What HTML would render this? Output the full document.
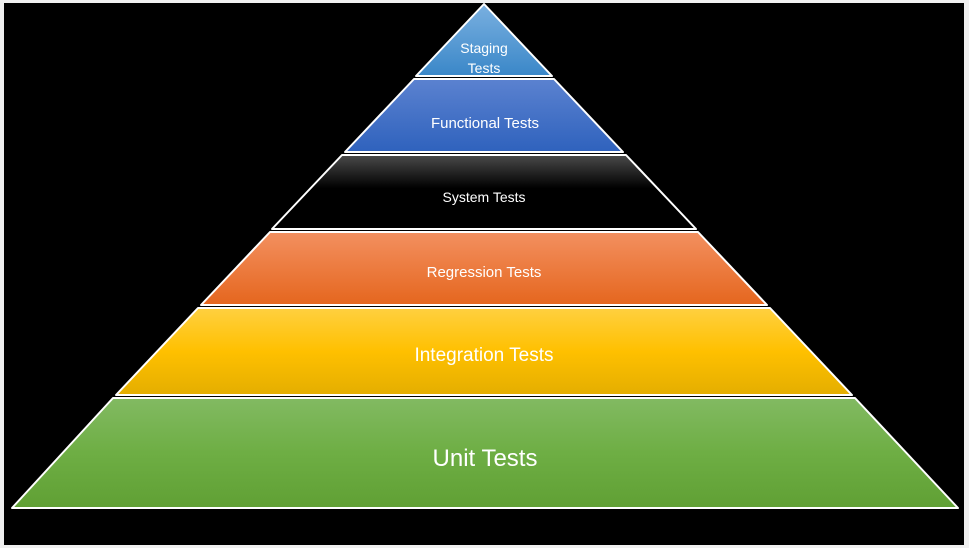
<!DOCTYPE html>
<html><head><style>
html,body{margin:0;padding:0;background:#f0f0f0;}
svg{display:block;}
text{font-family:"Liberation Sans",sans-serif;fill:#fff;text-anchor:middle;}
</style></head><body>
<svg width="969" height="548" viewBox="0 0 969 548">
<defs>
<linearGradient id="g1" x1="0" y1="0" x2="0" y2="1"><stop offset="0" stop-color="#7ab0e0"/><stop offset="1" stop-color="#3a87c8"/></linearGradient>
<linearGradient id="g2" x1="0" y1="0" x2="0" y2="1"><stop offset="0" stop-color="#5b82d0"/><stop offset="1" stop-color="#2f62bd"/></linearGradient>
<linearGradient id="g3" x1="0" y1="0" x2="0" y2="1"><stop offset="0" stop-color="#4a4a4a"/><stop offset="0.45" stop-color="#000"/><stop offset="1" stop-color="#000"/></linearGradient>
<linearGradient id="g4" x1="0" y1="0" x2="0" y2="1"><stop offset="0" stop-color="#f39060"/><stop offset="1" stop-color="#e5661e"/></linearGradient>
<linearGradient id="g5" x1="0" y1="0" x2="0" y2="1"><stop offset="0" stop-color="#ffd040"/><stop offset="0.5" stop-color="#ffc000"/><stop offset="1" stop-color="#e4ae00"/></linearGradient>
<linearGradient id="g6" x1="0" y1="0" x2="0" y2="1"><stop offset="0" stop-color="#82ba62"/><stop offset="0.5" stop-color="#6eae44"/><stop offset="1" stop-color="#60a034"/></linearGradient>
</defs>
<rect x="4" y="3" width="960" height="542" fill="#000"/>
<g stroke="#fff" stroke-width="2" stroke-linejoin="round">
<polygon points="484,4 552,76 416,76" fill="url(#g1)"/>
<polygon points="414,79 554,79 623,152 345,152" fill="url(#g2)"/>
<polygon points="342,155 626,155 696,229 272,229" fill="url(#g3)"/>
<polygon points="270,232 698,232 767,305 201,305" fill="url(#g4)"/>
<polygon points="198,308 770,308 852,395 116,395" fill="url(#g5)"/>
<polygon points="113,398 855,398 958,508 12,508" fill="url(#g6)"/>
</g>
<text x="484" y="53" font-size="14">Staging</text>
<text x="484" y="73" font-size="14">Tests</text>
<text x="485" y="128" font-size="15">Functional Tests</text>
<text x="484" y="202" font-size="14">System Tests</text>
<text x="484" y="277" font-size="15">Regression Tests</text>
<text x="484" y="361" font-size="19">Integration Tests</text>
<text x="485" y="466" font-size="24">Unit Tests</text>
</svg>
</body></html>
